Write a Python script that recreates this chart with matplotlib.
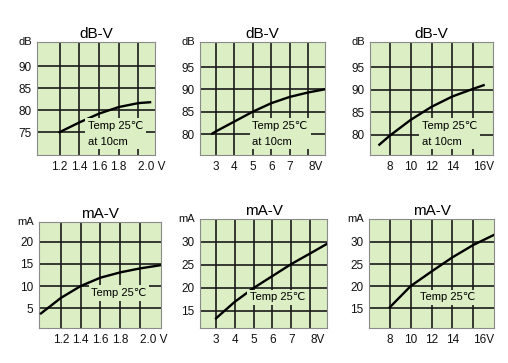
import matplotlib
matplotlib.use('Agg')
import matplotlib.pyplot as plt

plt.rcParams['font.family'] = ['Liberation Sans', 'DejaVu Sans']

# 曲线数据
v1 = [1.2, 1.4, 1.6, 1.8, 2.0, 2.12]
db1 = [75.0, 77.2, 79.2, 80.7, 81.6, 81.8]
v2 = [2.8, 3, 4, 5, 6, 7, 8, 8.9]
db2 = [80.1, 80.6, 82.8, 85.0, 86.9, 88.3, 89.3, 90.0]
v3 = [7, 8, 10, 12, 14, 16, 17]
db3 = [77.8, 79.8, 83.3, 86.2, 88.5, 90.2, 91.0]
v4 = [1.0, 1.2, 1.4, 1.6, 1.8, 2.0, 2.2]
ma4 = [3.8, 7.3, 10.0, 11.9, 13.1, 14.0, 14.7]
v5 = [3, 4, 5, 6, 7, 8, 8.9]
ma5 = [13.4, 17.0, 20.0, 22.6, 25.2, 27.5, 29.6]
v6 = [8, 10, 12, 14, 16, 18]
ma6 = [15.2, 20.0, 23.3, 26.5, 29.3, 31.6]

# 刻度
xt1 = [1.2, 1.4, 1.6, 1.8, 2.0]
xl1 = ['1.2', '1.4', '1.6', '1.8', '2.0 V']
xt2 = [3, 4, 5, 6, 7, 8]
xl2 = ['3', '4', '5', '6', '7', '8V']
xt3 = [8, 10, 12, 14, 16]
xl3 = ['8', '10', '12', '14', '16V']
yt_db1 = [75, 80, 85, 90]
yt_db2 = [80, 85, 90, 95]
yt_ma1 = [5, 10, 15, 20]
yt_ma2 = [15, 20, 25, 30]

bg = '#dbeec4'

panels = [
    # rect, x, y, xticks, xlabels, yticks, xlim, ylim, title, unit, note, note pos
    ([37, 42, 118, 113], v1, db1, xt1, xl1, yt_db1, (0.97, 2.17), (69.8, 95.5), 'dB-V', 'dB', 'Temp 25\u2103\nat 10cm', (0.43, 0.19)),
    ([200, 42, 125, 113], v2, db2, xt2, xl2, yt_db2, (2.13, 8.92), (75.3, 100.6), 'dB-V', 'dB', 'Temp 25\u2103\nat 10cm', (0.42, 0.19)),
    ([370, 42, 123, 113], v3, db3, xt3, xl3, yt_db2, (6.1, 17.9), (75.5, 100.6), 'dB-V', 'dB', 'Temp 25\u2103\nat 10cm', (0.42, 0.19)),
    ([39, 222, 122, 106], v4, ma4, xt1, xl1, yt_ma1, (0.98, 2.21), (0.5, 24.5), 'mA-V', 'mA', 'Temp 25\u2103', (0.43, 0.33)),
    ([200, 219, 127, 109], v5, ma5, xt2, xl2, yt_ma2, (2.15, 8.9), (11.3, 35.0), 'mA-V', 'mA', 'Temp 25\u2103', (0.39, 0.28)),
    ([369, 219, 125, 109], v6, ma6, xt3, xl3, yt_ma2, (6.0, 18.0), (10.5, 35.2), 'mA-V', 'mA', 'Temp 25\u2103', (0.41, 0.28)),
]

W, H = 508, 363
fig = plt.figure(figsize=(W / 100, H / 100), dpi=100)

for rect, x, y, xt, xl, yt, xlim, ylim, title, unit, note, npos in panels:
    l, t, w, h = rect
    ax = fig.add_axes([l / W, 1 - (t + h) / H, w / W, h / H])
    ax.set_facecolor(bg)
    ax.set_xlim(*xlim)
    ax.set_ylim(*ylim)
    ax.set_xticks(xt)
    ax.set_xticklabels(xl)
    ax.set_yticks(yt)
    ax.grid(True, color='#1a1a1a', linewidth=1.2)
    ax.set_axisbelow(True)
    ax.tick_params(length=0, labelsize=8.5, colors='#111111', pad=4)
    ax.get_xticklabels()[-1].set_horizontalalignment('left')
    for s in ax.spines.values():
        s.set_color('#8a8a8a')
        s.set_linewidth(0.8)
    ax.plot(x, y, color='black', linewidth=1.7, zorder=3)
    ax.set_title(title, fontsize=11, pad=3)
    ax.text(-0.04, 1.0, unit, transform=ax.transAxes, ha='right', va='center',
            fontsize=8, color='#111111')
    ax.text(npos[0], npos[1], note, transform=ax.transAxes, ha='left', va='center',
            fontsize=8, linespacing=1.75, zorder=4,
            bbox=dict(facecolor=bg, edgecolor='none', pad=2))

fig.savefig('out.png', dpi=100, facecolor='white')
